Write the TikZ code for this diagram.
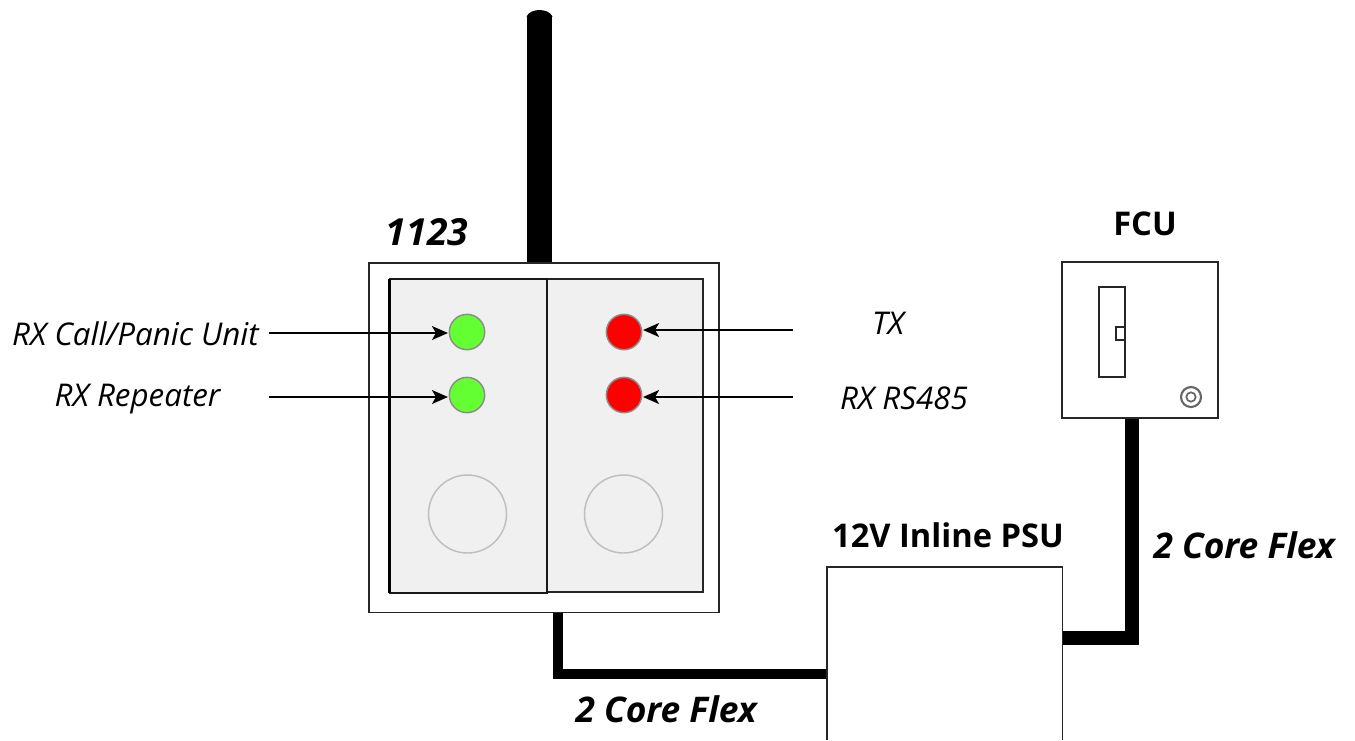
\documentclass[tikz,border=0pt]{standalone}
\usepackage{fontspec}
\setmainfont{Open Sans}
\usetikzlibrary{arrows.meta}
\definecolor{ledgreen}{RGB}{100,255,50}
\definecolor{panel}{RGB}{240,240,240}
\tikzset{
  px/.style={x=0.75pt,y=-0.75pt},
  boxline/.style={draw=black!85,line width=1.4pt},
  cable/.style={line join=miter},
  led/.style={circle,draw=black!45,line width=1.1pt,inner sep=0pt,minimum size=26.5pt},
  knob/.style={circle,draw=black!25,line width=1.1pt,inner sep=0pt,minimum size=58.5pt},
  pointer/.style={line width=1.1pt,-{Stealth[length=12pt,width=10.5pt,inset=3pt]},shorten >=0.5pt},
  itlabel/.style={font=\fontsize{23.5}{26}\selectfont\itshape,inner sep=0pt},
  bdlabel/.style={font=\fontsize{24.5}{28}\selectfont\bfseries,inner sep=0pt},
  bilabel/.style={font=\fontsize{26.5}{30}\selectfont\bfseries\itshape,inner sep=0pt},
}
\begin{document}
\begin{tikzpicture}[px]
\useasboundingbox (0,0) rectangle (1355,740);
% antenna
\coordinate (antTop) at (539.5,16);
\node[rectangle,draw=none,fill=none,minimum width=262.5pt,minimum height=262pt,inner sep=0pt] (unit) at (544,437.5) {};
\draw[line width=19.4pt] (antTop) -- (unit.north -| antTop);
\fill[shift={(antTop)}] (-13,0.5) .. controls (-11,-4) and (-5,-6) .. (0,-6) .. controls (5,-6) and (11,-4) .. (13,0.5) -- cycle;
% cables (under boxes)
\node[minimum width=176.5pt,minimum height=130pt,inner sep=0pt] (psu) at (944.5,653.5) {};
\node[minimum width=117pt,minimum height=117pt,inner sep=0pt] (fcu) at (1140,340) {};
\coordinate (c1) at (558,674);
\coordinate (c2) at (1131.5,637.5);
\draw[cable,line width=7.8pt] (unit.south -| c1) -- (c1) -- (c1 -| psu.west);
\draw[cable,line width=10.5pt] (c2 -| psu.east) -- (c2) -- (fcu.south -| c2);
% unit
\draw[boxline,fill=white] (unit.south west) rectangle (unit.north east);
\fill[panel] (389,279) rectangle (703,592);
\draw[boxline] (547,279) -- (703,279) -- (703,592) -- (547,592);
\draw[boxline,draw=black!90] (547,593) -- (389.5,593) -- (389.5,279) -- (547,279) -- cycle;
\draw[line width=2pt] (389.5,279) -- (389.5,593);
% LEDs
\node[led,fill=ledgreen] (g1) at (467,332) {};
\node[led,fill=ledgreen] (g2) at (467,395) {};
\node[led,fill=red] (r1) at (624,332) {};
\node[led,fill=red] (r2) at (624,395) {};
\node[knob] (k1) at (467.5,514) {};
\node[knob] (k2) at (623.5,514) {};
% FCU
\draw[boxline,fill=white] (fcu.south west) rectangle (fcu.north east);
\node[draw=black!85,line width=1.3pt,minimum width=19.5pt,minimum height=67.5pt,inner sep=0pt] (fuse) at (1112,332) {};
\node[draw=black!85,line width=1.3pt,minimum width=6.8pt,minimum height=9.8pt,inner sep=0pt] (tab) at (1120.5,333.5) {};
\node[circle,draw=black!60,line width=1.6pt,minimum size=15pt,inner sep=0pt] (ro) at (1191,397) {};
\node[circle,draw=black!60,line width=1.3pt,minimum size=7pt,inner sep=0pt] (ri) at (1191,397) {};
% PSU
\draw[boxline,fill=white] (psu.south west) -- (psu.north west) -- (psu.north east) -- (psu.south east);
% pointers
\coordinate (a1) at (269,333);
\coordinate (a2) at (269,397);
\coordinate (a3) at (793,330);
\coordinate (a4) at (793,397);
\draw[pointer] (a1) -- (a1 -| g1.west);
\draw[pointer] (a2) -- (a2 -| g2.west);
\draw[pointer] (a3) -- (a3 -| r1.east);
\draw[pointer] (a4) -- (a4 -| r2.east);
% labels
\node[itlabel] (l1) at (135.5,334) {RX Call/Panic Unit};
\node[itlabel] (l2) at (137.5,399) {RX Repeater};
\node[itlabel] (l3) at (888,323) {TX};
\node[itlabel] (l4) at (904,398) {RX RS485};
\node[bilabel,font=\fontsize{28}{30}\selectfont\bfseries\itshape] (t1) at (427,232) {1123};
\node[bdlabel] (t2) at (1145,224) {FCU};
\node[bdlabel] (t3) at (948,535) {12V Inline PSU};
\node[bilabel] (t4) at (1244,545) {2 Core Flex};
\node[bilabel] (t5) at (666,709) {2 Core Flex};
\end{tikzpicture}
\end{document}
